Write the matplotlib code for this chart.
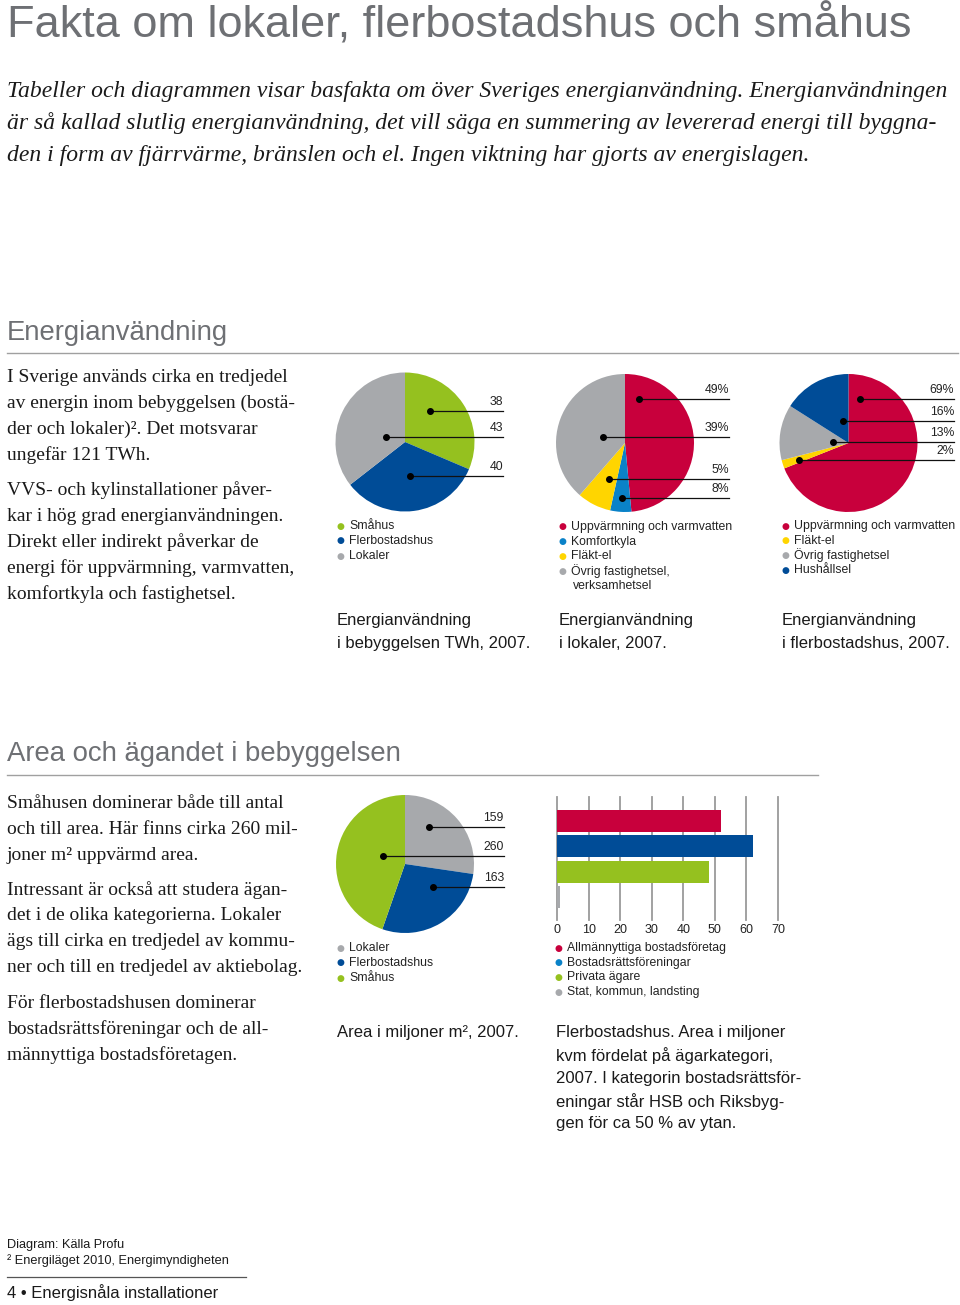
import matplotlib
matplotlib.use("Agg")
import matplotlib.pyplot as plt
import numpy as np

plt.rcParams['font.family'] = ['Liberation Sans', 'DejaVu Sans']

# data
bebyggelse_cats = ['Småhus', 'Flerbostadshus', 'Lokaler']
bebyggelse_twh = [38, 40, 43]

lokaler_cats = ['Uppvärmning och varmvatten', 'Komfortkyla', 'Fläkt-el',
                'Övrig fastighetsel,\nverksamhetsel']
lokaler_pct = [49, 5, 8, 39]
lokaler_labels = ['49%', '8%', '5%', '39%']

fler_cats = ['Uppvärmning och varmvatten', 'Fläkt-el', 'Övrig fastighetsel', 'Hushållsel']
fler_pct = [69, 2, 13, 16]

area_cats = ['Lokaler', 'Flerbostadshus', 'Småhus']
area_mkvm = [159, 163, 260]

agare_cats = ['Allmännyttiga bostadsföretag', 'Bostadsrättsföreningar',
              'Privata ägare', 'Stat, kommun, landsting']
agare_area = [52, 62, 48, 1]
bar_ticks = [0, 10, 20, 30, 40, 50, 60, 70]

# colours
GREEN = '#95c11f'
BLUE = '#004c97'
LBLUE = '#0a82c8'
GRAY = '#a7a9ac'
RED = '#c8003c'
YELLOW = '#ffd500'
HEAD = '#6e7074'
INK = '#1a1a1a'

W, H = 960, 1305
fig = plt.figure(figsize=(W / 100, H / 100), dpi=100)


def fx(x):
    return x / W


def fy(y):
    return 1 - y / H


def txt(x, y, s, **kw):
    kw.setdefault('va', 'center')
    kw.setdefault('color', INK)
    fig.text(fx(x), fy(y), s, **kw)


def rule(x0, x1, y, color='#a0a0a0', lw=1.0):
    fig.add_artist(plt.Line2D([fx(x0), fx(x1)], [fy(y), fy(y)], color=color, lw=lw))


def pie(cx, cy, r, values, colors, labels, anchors, x_end):
    ax = fig.add_axes([fx(cx - r), fy(cy + r), 2 * r / W, 2 * r / H])
    ax.pie(values, colors=colors, startangle=90, counterclock=False, radius=1,
           wedgeprops=dict(linewidth=0))
    ax.set_xlim(-1, 1)
    ax.set_ylim(-1, 1)
    ax.set_aspect('equal')
    ax.axis('off')
    xe = (x_end - cx) / r
    for lab, (ang, fr) in zip(labels, anchors):
        px = fr * np.cos(np.radians(ang))
        py = fr * np.sin(np.radians(ang))
        ax.plot([px, xe], [py, py], color='#111111', lw=0.9, clip_on=False)
        ax.plot(px, py, 'o', color='black', ms=4, clip_on=False)
        ax.text(xe, py + 0.04, lab, ha='right', va='bottom', fontsize=8.8,
                color='#222222', clip_on=False)
    return ax


def legend(x, y0, items, step=15):
    y = y0
    for name, col in items:
        txt(x, y, '●', fontsize=6.5, color=col, ha='center',
            family=['DejaVu Sans'])
        lines = name.split('\n')
        for k, ln in enumerate(lines):
            txt(x + 9 + (2 if k else 0), y, ln, fontsize=8.8, color='#222222')
            y += step


# title and intro
txt(7, 25, 'Fakta om lokaler, flerbostadshus och småhus', fontsize=32.5, color=HEAD)
intro = ['Tabeller och diagrammen visar basfakta om över Sveriges energianvändning. Energianvändningen',
         'är så kallad slutlig energianvändning, det vill säga en summering av levererad energi till byggna-',
         'den i form av fjärrvärme, bränslen och el. Ingen viktning har gjorts av energislagen.']
for i, ln in enumerate(intro):
    txt(7, 91 + 32 * i, ln, fontsize=17, style='italic', family='Liberation Serif')

# section 1
txt(7, 333, 'Energianvändning', fontsize=19.8, color=HEAD)
rule(7, 958, 353)
para1 = ['I Sverige används cirka en tredjedel', 'av energin inom bebyggelsen (bostä-',
         'der och lokaler)². Det motsvarar', 'ungefär 121 TWh.']
para2 = ['VVS- och kylinstallationer påver-', 'kar i hög grad energianvändningen.',
         'Direkt eller indirekt påverkar de', 'energi för uppvärmning, varmvatten,',
         'komfortkyla och fastighetsel.']
for i, ln in enumerate(para1):
    txt(7, 377 + 26 * i, ln, fontsize=14, family='Liberation Serif')
for i, ln in enumerate(para2):
    txt(7, 490 + 26 * i, ln, fontsize=14, family='Liberation Serif')

pie(405, 442, 69.5, bebyggelse_twh, [GREEN, BLUE, GRAY],
    [str(v) for v in bebyggelse_twh], [(51, 0.57), (-82, 0.49), (165, 0.28)], 503)
legend(340, 526, zip(bebyggelse_cats, [GREEN, BLUE, GRAY]))
txt(337, 620, 'Energianvändning', fontsize=12)
txt(337, 643, 'i bebyggelsen TWh, 2007.', fontsize=12)

pie(625, 443, 69, lokaler_pct, [RED, LBLUE, YELLOW, GRAY], lokaler_labels,
    [(72, 0.67), (-93, 0.80), (-114, 0.57), (165, 0.33)], 729)
legend(562, 527, zip(lokaler_cats, [RED, LBLUE, YELLOW, GRAY]), step=14.7)
txt(559, 620, 'Energianvändning', fontsize=12)
txt(559, 643, 'i lokaler, 2007.', fontsize=12)

pie(848.5, 443, 69, fler_pct, [RED, YELLOW, GRAY, BLUE],
    [f'{v}%' for v in fler_pct], [(75, 0.66), (-161, 0.76), (176, 0.23), (104, 0.33)], 954)
legend(785, 526, zip(fler_cats, [RED, YELLOW, GRAY, BLUE]), step=14.7)
txt(782, 620, 'Energianvändning', fontsize=12)
txt(782, 643, 'i flerbostadshus, 2007.', fontsize=12)

# section 2
txt(7, 754, 'Area och ägandet i bebyggelsen', fontsize=19.8, color=HEAD)
rule(7, 818, 775)
para3 = ['Småhusen dominerar både till antal', 'och till area. Här finns cirka 260 mil-',
         'joner m² uppvärmd area.']
para4 = ['Intressant är också att studera ägan-', 'det i de olika kategorierna. Lokaler',
         'ägs till cirka en tredjedel av kommu-', 'ner och till en tredjedel av aktiebolag.']
para5 = ['För flerbostadshusen dominerar', 'bostadsrättsföreningar och de all-',
         'männyttiga bostadsföretagen.']
for y0, para in [(803, para3), (890, para4), (1003, para5)]:
    for i, ln in enumerate(para):
        txt(7, y0 + 26 * i, ln, fontsize=14, family='Liberation Serif')

pie(405, 864, 69, area_mkvm, [GRAY, BLUE, GREEN],
    [str(v) for v in area_mkvm], [(57, 0.64), (-39, 0.52), (160, 0.34)], 504)
legend(340, 948, zip(area_cats, [GRAY, BLUE, GREEN]))
txt(337, 1033, 'Area i miljoner m², 2007.', fontsize=12)

# bar chart
ax = fig.add_axes([fx(557), fy(920), (778 - 557) / W, (920 - 797) / H])
ypos = np.arange(len(agare_area))
ax.barh(ypos, agare_area, height=0.88, color=[RED, BLUE, GREEN, GRAY], zorder=2)
ax.set_xlim(0, 70)
ax.set_ylim(3.91, -0.95)
ax.set_xticks(bar_ticks)
ax.set_yticks([])
ax.grid(axis='x', color='#9a9a9a', lw=1.3, zorder=0)
for g in ax.get_xgridlines():
    g.set_clip_on(False)
for s in ax.spines.values():
    s.set_visible(False)
ax.tick_params(axis='x', length=0, pad=3, labelsize=9, labelcolor='#222222')
legend(558, 948, zip(agare_cats, [RED, LBLUE, GREEN, GRAY]), step=14.7)
cap = ['Flerbostadshus. Area i miljoner', 'kvm fördelat på ägarkategori,',
       '2007. I kategorin bostadsrättsför-', 'eningar står HSB och Riksbyg-',
       'gen för ca 50 % av ytan.']
for i, ln in enumerate(cap):
    txt(556, 1033 + 22.7 * i, ln, fontsize=12)

# footer
txt(7, 1245, 'Diagram: Källa Profu', fontsize=9.2)
txt(7, 1261, '² Energiläget 2010, Energimyndigheten', fontsize=9.2)
rule(7, 246, 1277, color='#555555', lw=0.9)
txt(7, 1293, '4 • Energisnåla installationer', fontsize=12)

fig.savefig('out.png', dpi=100)
